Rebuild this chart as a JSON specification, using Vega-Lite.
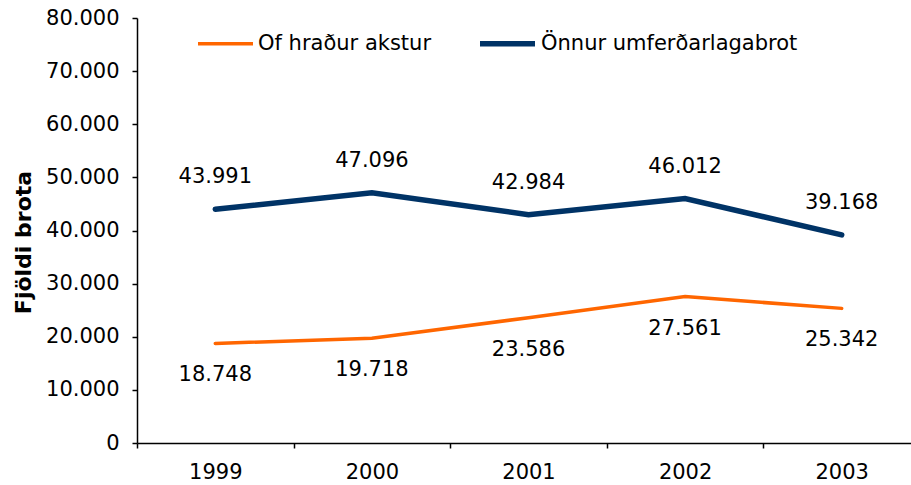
{
  "$schema": "https://vega.github.io/schema/vega-lite/v6.json",
  "width": 774,
  "height": 425,
  "autosize": {"type": "none"},
  "padding": {"left": 137, "top": 18, "right": 0, "bottom": 42},
  "background": "white",
  "config": {
    "locale": {"number": {"decimal": ",", "thousands": ".", "grouping": [3], "currency": ["", ""]}},
    "view": {"stroke": null},
    "font": "DejaVu Sans",
    "axis": {
      "domainColor": "#000",
      "tickColor": "#000",
      "labelColor": "#000",
      "titleColor": "#000",
      "domainWidth": 1.5,
      "tickWidth": 1.5,
      "grid": false,
      "labelFont": "DejaVu Sans",
      "labelFontSize": 21,
      "tickSize": 5
    }
  },
  "data": {
    "values": [
      {"year": "1999", "series": "Of hraður akstur", "value": 18748},
      {"year": "2000", "series": "Of hraður akstur", "value": 19718},
      {"year": "2001", "series": "Of hraður akstur", "value": 23586},
      {"year": "2002", "series": "Of hraður akstur", "value": 27561},
      {"year": "2003", "series": "Of hraður akstur", "value": 25342},
      {"year": "1999", "series": "Önnur umferðarlagabrot", "value": 43991},
      {"year": "2000", "series": "Önnur umferðarlagabrot", "value": 47096},
      {"year": "2001", "series": "Önnur umferðarlagabrot", "value": 42984},
      {"year": "2002", "series": "Önnur umferðarlagabrot", "value": 46012},
      {"year": "2003", "series": "Önnur umferðarlagabrot", "value": 39168}
    ]
  },
  "layer": [
    {
      "mark": {"type": "line", "strokeCap": "round", "strokeJoin": "miter"},
      "encoding": {
        "x": {
          "field": "year", "type": "ordinal", "bandPosition": 0.5,
          "scale": {"type": "band", "paddingInner": 0, "paddingOuter": 0, "range": [0, 783]},
          "axis": {"title": null, "tickBand": "extent", "labelAngle": 0, "labelPadding": 13}
        },
        "y": {
          "field": "value", "type": "quantitative",
          "scale": {"domain": [0, 80000], "nice": false},
          "axis": {
            "values": [0, 10000, 20000, 30000, 40000, 50000, 60000, 70000, 80000],
            "format": ",.0f",
            "labelPadding": 13,
            "title": "Fjöldi brota",
            "titleFont": "DejaVu Sans",
            "titleFontSize": 22,
            "titleFontWeight": "bold",
            "titleX": -102,
            "titleY": 224,
            "titleAngle": -90,
            "titleBaseline": "bottom",
            "titleAlign": "center"
          }
        },
        "color": {
          "field": "series", "type": "nominal",
          "scale": {"domain": ["Of hraður akstur", "Önnur umferðarlagabrot"], "range": ["#FF6600", "#003366"]},
          "legend": {
            "orient": "none", "legendX": 59, "legendY": -5, "direction": "horizontal", "title": null,
            "symbolType": "stroke", "symbolSize": 3025, "labelFontSize": 21, "labelFont": "DejaVu Sans",
            "labelColor": "#000", "labelOffset": 3, "columnPadding": 37, "labelLimit": 500
          }
        },
        "strokeWidth": {
          "field": "series", "type": "nominal",
          "scale": {"domain": ["Of hraður akstur", "Önnur umferðarlagabrot"], "range": [3.5, 5.5]},
          "legend": {
            "orient": "none", "legendX": 59, "legendY": -5, "direction": "horizontal", "title": null,
            "symbolType": "stroke", "symbolSize": 3025, "labelFontSize": 21, "labelFont": "DejaVu Sans",
            "labelColor": "#000", "labelOffset": 3, "columnPadding": 37, "labelLimit": 500
          }
        }
      }
    },
    {
      "transform": [{"filter": "datum.series == 'Önnur umferðarlagabrot'"}],
      "mark": {"type": "text", "dy": -32, "fontSize": 21, "font": "DejaVu Sans", "color": "#000"},
      "encoding": {
        "x": {"field": "year", "type": "ordinal", "bandPosition": 0.5},
        "y": {"field": "value", "type": "quantitative"},
        "text": {"field": "value", "type": "quantitative", "format": ",.0f"}
      }
    },
    {
      "transform": [{"filter": "datum.series == 'Of hraður akstur'"}],
      "mark": {"type": "text", "dy": 32, "fontSize": 21, "font": "DejaVu Sans", "color": "#000"},
      "encoding": {
        "x": {"field": "year", "type": "ordinal", "bandPosition": 0.5},
        "y": {"field": "value", "type": "quantitative"},
        "text": {"field": "value", "type": "quantitative", "format": ",.0f"}
      }
    }
  ]
}
